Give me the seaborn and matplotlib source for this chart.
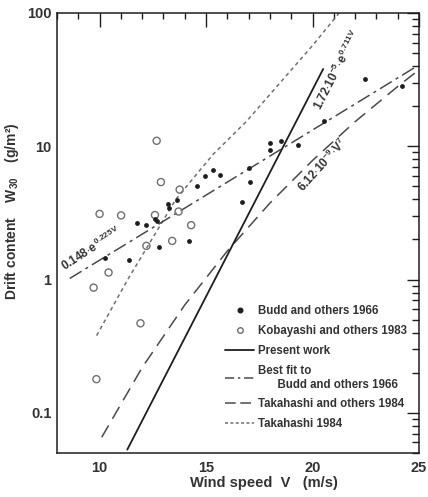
import numpy as np
import pandas as pd
import matplotlib
matplotlib.use("Agg")
import matplotlib.pyplot as plt
import seaborn as sns
from matplotlib.lines import Line2D
from matplotlib.ticker import FixedLocator, NullFormatter, LogLocator

# --- data ---
# Budd and others 1966 (filled dots)
budd_v = [10.27, 11.36, 11.75, 12.20, 12.68, 12.60, 12.77, 13.22, 13.24, 13.62,
          14.21, 14.59, 14.95, 15.34, 15.67, 16.67, 17.03, 17.07, 18.02, 17.98,
          18.52, 19.30, 20.56, 22.46, 24.20]
budd_w = [1.45, 1.40, 2.67, 2.55, 2.75, 2.85, 1.76, 3.66, 3.42, 3.95,
          1.95, 5.03, 6.02, 6.68, 6.13, 3.79, 6.88, 5.43, 10.6, 9.33,
          10.9, 10.3, 15.4, 31.8, 28.4]

# Kobayashi and others 1983 (open circles)
koba_v = [12.68, 12.88, 13.76, 10.00, 11.01, 12.60, 13.71, 14.30, 12.20, 13.41,
          10.42, 9.72, 11.92, 9.85]
koba_w = [11.0, 5.39, 4.73, 3.11, 3.03, 3.05, 3.24, 2.56, 1.79, 1.95,
          1.13, 0.87, 0.47, 0.179]

# Present work: 1.72e-5 * exp(0.711 V)  (straight on semilog)
present_v = [11.3, 20.5]
present_w = [0.053, 38.0]

# Best fit to Budd: 0.148 * exp(0.225 V)
bestfit_v = [8.6, 24.8]
bestfit_w = [1.02, 39.0]

# Takahashi and others 1984: 6.12e-9 * V^7
tak_oth_v = [10.1, 12, 14, 16, 18, 20, 22, 24, 24.8]
tak_oth_w = [0.0656, 0.219, 0.645, 1.64, 3.75, 7.83, 15.3, 28.1, 35.4]

# Takahashi 1984 (short dashes)
tak_v = [9.86, 11.32, 13.58, 15.33, 16.9, 20.0, 21.25]
tak_w = [0.38, 1.0, 4.0, 8.7, 15.4, 57.0, 100.0]

x_ticks = [10, 15, 20, 25]
y_ticks = [0.1, 1, 10, 100]
y_tick_labels = ["0.1", "1", "10", "100"]

sns.set_theme(style="white")
plt.rcParams['font.family'] = ['Liberation Sans', 'DejaVu Sans']
plt.rcParams['mathtext.fontset'] = 'custom'
plt.rcParams['mathtext.rm'] = 'Liberation Sans:bold'
plt.rcParams['mathtext.it'] = 'Liberation Sans:bold'
plt.rcParams['mathtext.bf'] = 'Liberation Sans:bold'

INK = '#1e1e1e'
GREY = '#4a4a4a'
LIGHT = '#707070'
TXT = '#333333'

fig = plt.figure(figsize=(4.28, 4.97), dpi=100)
ax = fig.add_axes([57 / 428, 1 - 453 / 497, 362 / 428, 440 / 497])
ax.set_yscale('log')

# curves
sns.lineplot(x=tak_v, y=tak_w, ax=ax, color=LIGHT, lw=1.1,
             linestyle=(0, (2.5, 2.2)), sort=False)
sns.lineplot(x=tak_oth_v, y=tak_oth_w, ax=ax, color=GREY, lw=1.1,
             linestyle=(0, (9, 5)), sort=False)
sns.lineplot(x=bestfit_v, y=bestfit_w, ax=ax, color=GREY, lw=1.1,
             linestyle=(0, (9, 3, 2, 3)), sort=False)
sns.lineplot(x=present_v, y=present_w, ax=ax, color=INK, lw=1.3, sort=False)

# points
sns.scatterplot(x=koba_v, y=koba_w, ax=ax, marker='o', s=26,
                facecolor='none', edgecolor=LIGHT, linewidth=1.0, zorder=3)
sns.scatterplot(x=budd_v, y=budd_w, ax=ax, marker='o', s=12,
                color=INK, edgecolor=INK, linewidth=0, zorder=4)

ax.set_xlim(8, 25)
ax.set_ylim(0.05, 100)

# ticks
ax.xaxis.set_major_locator(FixedLocator(x_ticks))
ax.xaxis.set_minor_locator(FixedLocator(np.arange(8, 26, 1)))
ax.yaxis.set_major_locator(FixedLocator(y_ticks))
ax.yaxis.set_minor_locator(LogLocator(base=10, subs=np.arange(2, 10)))
ax.yaxis.set_minor_formatter(NullFormatter())
ax.set_yticklabels(y_tick_labels)
ax.tick_params(axis='both', which='both', direction='in', top=True, right=True,
               colors=INK, labelsize=10.5, width=1.0)
ax.tick_params(axis='x', which='major', length=10, pad=6)
ax.tick_params(axis='x', which='minor', length=4)
ax.tick_params(axis='y', which='major', length=9, pad=4)
ax.tick_params(axis='y', which='minor', length=5)
for lab in ax.get_xticklabels() + ax.get_yticklabels():
    lab.set_fontweight('bold')
    lab.set_color(TXT)

for sp in ax.spines.values():
    sp.set_color(INK)
    sp.set_linewidth(1.1)

ax.set_xlabel('Wind speed  V   (m/s)', fontsize=10.5, fontweight='bold', color=TXT)
ax.xaxis.set_label_coords(0.573, -0.052)
ax.set_ylabel('Drift content    W$_{30}$    (g/m²)', fontsize=10, fontweight='bold',
              color=TXT)
ax.yaxis.set_label_coords(-0.1, 0.55)

# formula labels
ax.text(8.38, 1.15, r'0.148$\cdot$e$^{\,0.225V}$', rotation=33, rotation_mode='anchor',
        ha='left', va='baseline', fontsize=8.5, fontweight='bold', color=TXT)
ax.text(20.4, 18.5, r'1.72$\cdot$10$^{-5}$$\cdot$e$^{\,0.711V}$', rotation=63,
        rotation_mode='anchor', ha='left', va='baseline', fontsize=8.5,
        fontweight='bold', color=TXT)
ax.text(19.6, 4.5, r'6.12$\cdot$10$^{-9}$$\cdot$V$^{7}$', rotation=48,
        rotation_mode='anchor', ha='left', va='baseline', fontsize=8.5,
        fontweight='bold', color=TXT)

# legend
handles = [
    Line2D([], [], ls='none', marker='o', ms=3.3, color=INK, mec=INK),
    Line2D([], [], ls='none', marker='o', ms=4.0, mfc='none', mec=LIGHT, mew=1.0),
    Line2D([], [], color=INK, lw=1.3),
    Line2D([], [], color=GREY, lw=1.1, linestyle=(0, (6, 2.5, 1.5, 2.5))),
    Line2D([], [], color=GREY, lw=1.1, linestyle=(0, (7, 3))),
    Line2D([], [], color=LIGHT, lw=1.1, linestyle=(0, (2, 1.5))),
]
labels = [
    'Budd and others 1966',
    'Kobayashi and others 1983',
    'Present work',
    'Best fit to\n      Budd and others 1966',
    'Takahashi and others 1984',
    'Takahashi 1984',
]
leg = ax.legend(handles, labels, loc='lower right', bbox_to_anchor=(0.986, 0.036),
                frameon=False, fontsize=8.3, handlelength=2.5, handletextpad=0.35,
                labelspacing=0.68, borderaxespad=0.2)
for t in leg.get_texts():
    t.set_fontweight('bold')
    t.set_color(TXT)

fig.savefig('out.png', dpi=100)
